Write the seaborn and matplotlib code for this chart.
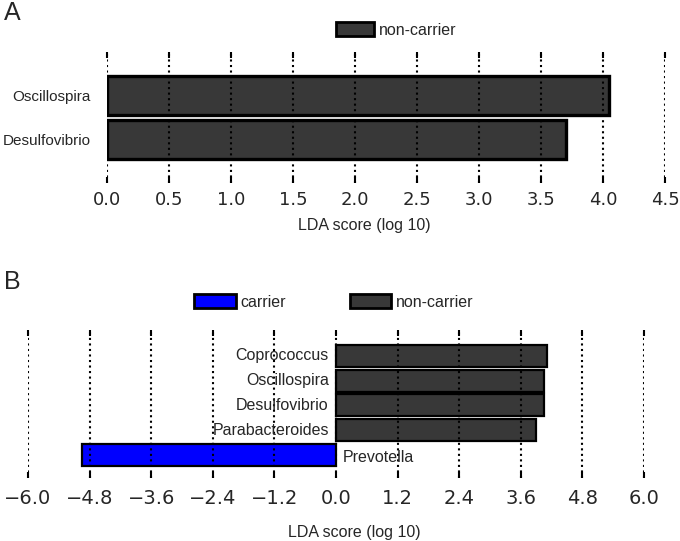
import numpy as np
import pandas as pd
import matplotlib
matplotlib.use("Agg")
import matplotlib.pyplot as plt
import matplotlib.patches as mpatches
import seaborn as sns

# panel A: non-carrier only
a_names = ["Oscillospira", "Desulfovibrio"]
a_scores = [4.05, 3.70]
a_class = ["non-carrier", "non-carrier"]

# panel B: carrier vs non-carrier
b_names = ["Coprococcus", "Oscillospira", "Desulfovibrio", "Parabacteroides", "Prevotella"]
b_scores = [4.12, 4.06, 4.05, 3.89, -4.94]
b_class = ["non-carrier", "non-carrier", "non-carrier", "non-carrier", "carrier"]

colors = {"carrier": "#0000ff", "non-carrier": "#383838"}

sns.set_style("white")
plt.rcParams["font.family"] = ["Liberation Sans", "DejaVu Sans"]
plt.rcParams["font.size"] = 11.5

W, H = 680, 541
fig = plt.figure(figsize=(W / 100, H / 100), dpi=100)
axA = fig.add_axes([107 / W, 1 - 183 / H, 558 / W, 131 / H])
axB = fig.add_axes([28 / W, 1 - 478 / H, 616 / W, 148 / H])

dfA = pd.DataFrame({"name": a_names, "score": a_scores, "cls": a_class})
dfB = pd.DataFrame({"name": b_names, "score": b_scores, "cls": b_class})

sns.barplot(data=dfA, x="score", y="name", hue="cls", palette=colors, dodge=False,
            saturation=1, width=0.87, edgecolor="black", linewidth=2.4, legend=False, ax=axA)
sns.barplot(data=dfB, x="score", y="name", hue="cls", palette=colors, dodge=False,
            saturation=1, width=0.89, edgecolor="black", linewidth=1.6, legend=False, ax=axB)


def style_axis(ax, ticks, labelsize, pad):
    ax.set_xticks(ticks)
    ax.set_xticklabels([f"{t:.1f}".replace("-", "\u2212") for t in np.round(ticks, 1) + 0.0],
                       family="DejaVu Sans", fontsize=labelsize)
    ax.grid(True, axis="x", linestyle=":", color="black", linewidth=1.5)
    ax.grid(False, axis="y")
    ax.set_axisbelow(False)
    ax.tick_params(axis="x", top=True, bottom=True, direction="in", length=4,
                   width=1.5, color="black", pad=pad)
    for s in ax.spines.values():
        s.set_visible(False)
    ax.set_ylabel("")


# panel A
axA.set_xlim(0, 4.5)
axA.set_ylim(len(a_names) - 1 + 0.97, -0.97)
style_axis(axA, np.arange(0, 4.51, 0.5), 13, 6)
axA.tick_params(axis="y", length=0, pad=12, labelsize=11)
axA.set_xlabel("LDA score (log 10)", fontsize=11.5)
axA.xaxis.set_label_coords(0.462, -0.27)

# panel B
axB.set_xlim(-6, 6)
axB.set_ylim(len(b_names) - 1 + 0.93, -1.05)
style_axis(axB, np.linspace(-6, 6, 11), 14, 8)
axB.set_yticks([])
for i, (n, v) in enumerate(zip(b_names, b_scores)):
    if v >= 0:
        axB.text(-0.14, i, n, ha="right", va="center", fontsize=11.5)
    else:
        axB.text(0.14, i + 0.1, n, ha="left", va="center", fontsize=11.5)
axB.set_xlabel("LDA score (log 10)", fontsize=11.5)
axB.xaxis.set_label_coords(0.529, -0.318)

# legends
def patch(c):
    return mpatches.Patch(facecolor=colors[c], edgecolor="black", linewidth=2.0, label=c)

fig.legend(handles=[patch("non-carrier")], loc="center", frameon=False,
           bbox_to_anchor=(396 / W, 1 - 30 / H), handlelength=2.4, handleheight=0.95,
           handletextpad=0.3, fontsize=11.5)
fig.legend(handles=[patch("carrier"), patch("non-carrier")], loc="center", frameon=False,
           ncol=2, bbox_to_anchor=(334 / W, 1 - 302 / H), handlelength=2.6, handleheight=1.0,
           handletextpad=0.3, columnspacing=4.0, fontsize=11.5)

fig.text(4 / W, 1 - 13 / H, "A", fontsize=18, va="center", ha="left")
fig.text(4 / W, 1 - 282 / H, "B", fontsize=18, va="center", ha="left")

fig.savefig("out.png", dpi=100)
